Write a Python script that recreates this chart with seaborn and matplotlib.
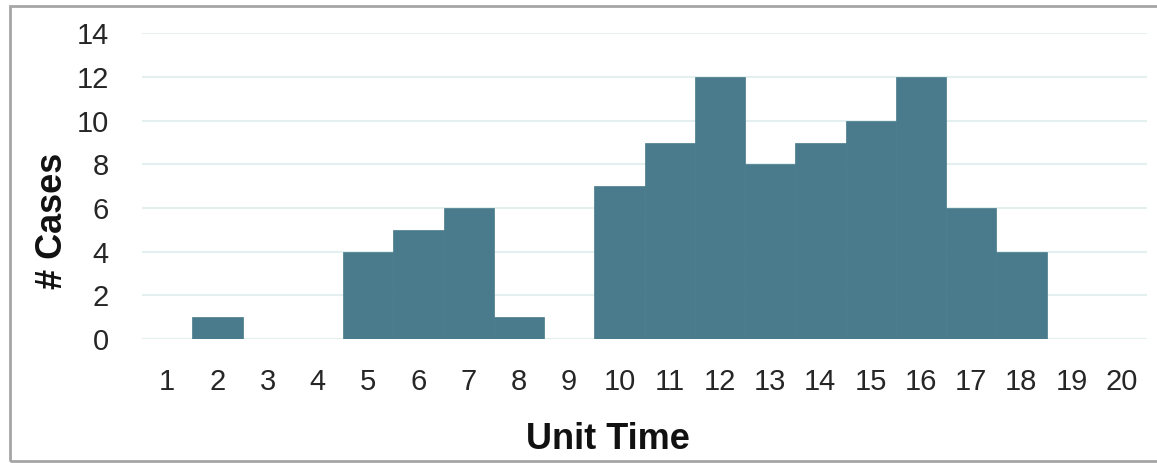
import pandas as pd
import seaborn as sns
import matplotlib.pyplot as plt
from matplotlib.patches import Rectangle

# cases per unit time
unit_time = [str(i) for i in range(1, 21)]
cases = [0, 1, 0, 0, 4, 5, 6, 1, 0, 7, 9, 12, 8, 9, 10, 12, 6, 4, 0, 0]

df = pd.DataFrame({'Unit Time': unit_time, 'Cases': cases})

sns.set_theme(style='white')
plt.rcParams['font.family'] = ['Liberation Sans', 'DejaVu Sans']

fig = plt.figure(figsize=(11.57, 4.63), dpi=100)
ax = fig.add_axes([142 / 1157, 0.2678, 1005 / 1157, 0.928 - 0.2678])

sns.barplot(data=df, x='Unit Time', y='Cases', color='#4a7b8c', saturation=1,
            width=1.0, edgecolor='#4a7b8c', linewidth=0.5, ax=ax, zorder=3)

ax.set_ylim(0, 14)
ax.set_xlim(-0.5, 19.5)
ax.set_yticks(range(0, 15, 2))
ax.yaxis.grid(True, color='#e4eff0', linewidth=1.5, zorder=0)
ax.set_axisbelow(True)
for s in ax.spines.values():
    s.set_visible(False)

ax.tick_params(axis='x', labelsize=21, pad=21, length=0, colors='#262626')
ax.tick_params(axis='y', labelsize=21, pad=24, length=0, colors='#262626')

ax.set_xlabel('Unit Time', fontsize=26, fontweight='bold', color='#111111')
ax.set_ylabel('# Cases', fontsize=26, fontweight='bold', color='#111111')
ax.xaxis.set_label_coords((608 - 142) / 1005, -0.27)
ax.yaxis.set_label_coords(-0.072, 0.385)

# outer frame
fig.patches.append(Rectangle((10 / 1157, 2 / 463), 1.2, 455 / 463, transform=fig.transFigure,
                             fill=False, edgecolor='#a6a6a6', linewidth=2))

fig.savefig('out.png', dpi=100)
